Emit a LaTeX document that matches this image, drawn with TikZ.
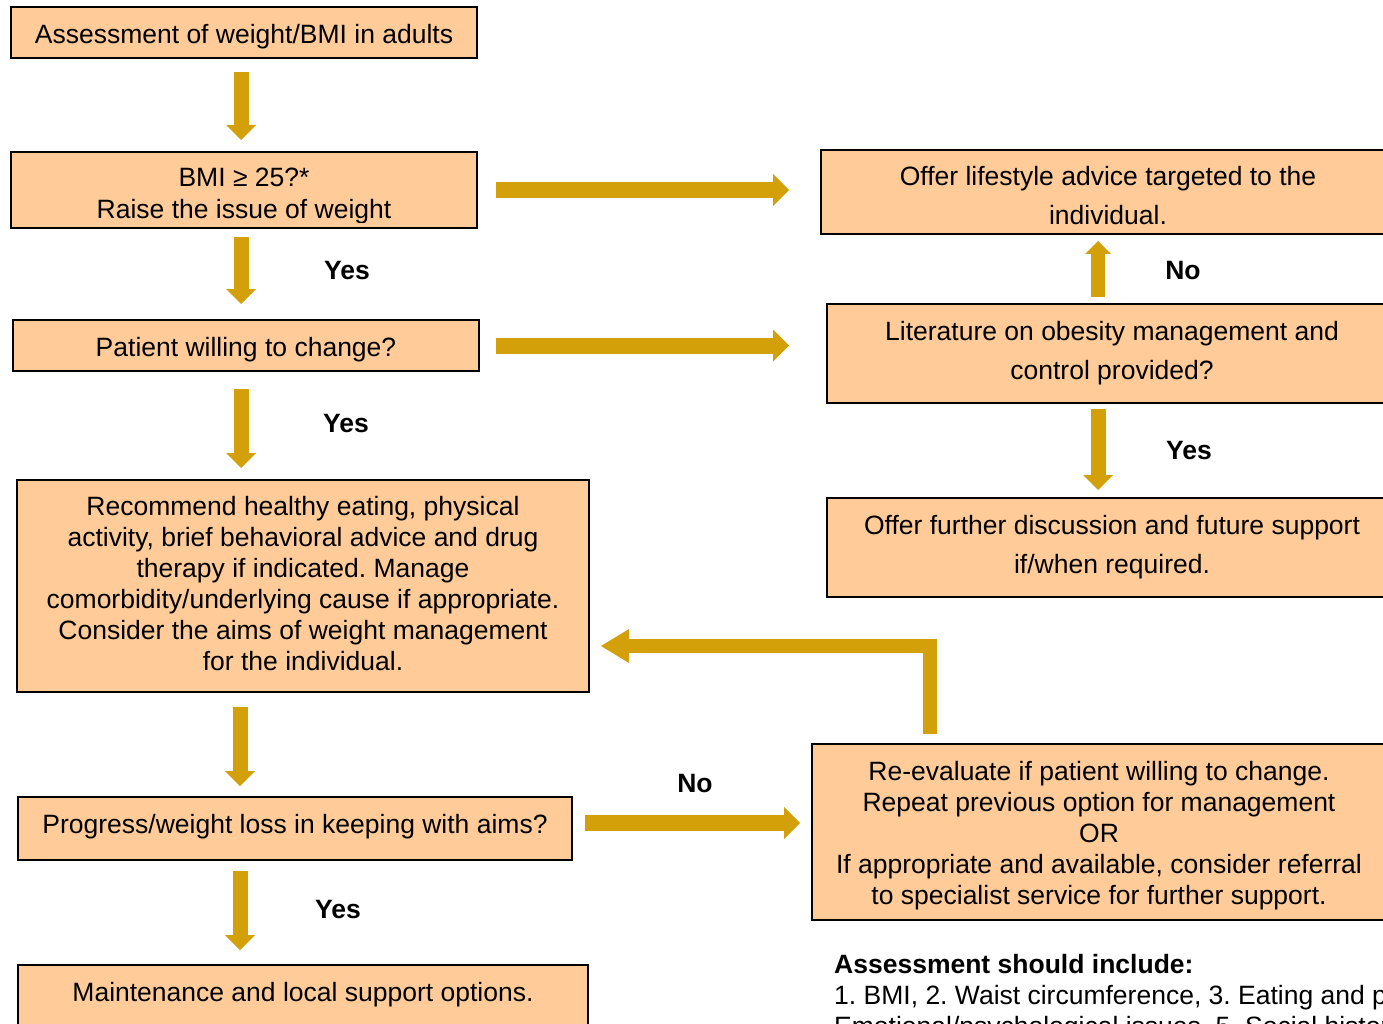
\documentclass[tikz,border=0pt]{standalone}
\usepackage{fontspec}
\setmainfont{Liberation Sans}
\usetikzlibrary{arrows.meta,calc}
\definecolor{boxfill}{HTML}{FFCC99}
\definecolor{gold}{HTML}{D4A00A}
\frenchspacing
\begin{document}
\frenchspacing
\begin{tikzpicture}[x=1pt,y=-1pt,
  box/.style={draw=black,line width=2pt,fill=boxfill,inner sep=0pt,align=center,
    font=\fontsize{26.5}{31}\selectfont},
  wbox/.style={box,font=\fontsize{26.5}{39}\selectfont},
  lbl/.style={font=\bfseries\fontsize{26.5}{31}\selectfont,inner sep=0pt},
  txt/.style={font=\fontsize{26.5}{31}\selectfont,inner sep=0pt,align=center},
  wtxt/.style={txt,font=\fontsize{26.5}{39}\selectfont},
  varrow/.style={draw=gold,line width=15pt,-{Triangle[width=30pt,length=15pt,line width=0pt]}},
  uarrow/.style={draw=gold,line width=14pt,-{Triangle[width=26pt,length=13pt,line width=0pt]}},
  harrow/.style={draw=gold,line width=16pt,-{Triangle[width=32pt,length=16pt,line width=0pt]}},
  barrow/.style={draw=gold,line width=14pt,line join=miter,-{Triangle[width=34pt,length=28pt,line width=0pt]}}
]
\useasboundingbox (0,0) rectangle (1383,1024);
\fill[white] (0,0) rectangle (1383,1024);
\clip (0,0) rectangle (1383,1024);

% left column boxes
\node[box,minimum width=466pt,minimum height=51pt] (b1) at (244,32.5) {};
\node[txt] (b1t) at (244,36.5) {Assessment of weight/BMI in adults};
\node[box,minimum width=466pt,minimum height=76pt] (b2) at (244,190) {};
\coordinate (b2clip) at (477,222.5);
\begin{scope}
  \clip (b2.north west) rectangle (b2clip);
  \node[txt,anchor=base] (b2a) at (244,186.5) {BMI ≥ 25?*};
  \node[txt,anchor=base] (b2b) at (244,218.5) {Raise the issue of weight};
\end{scope}
\node[box,minimum width=466pt,minimum height=51pt] (b3) at (246,345.5) {};
\coordinate (b3clip) at (479,361);
\begin{scope}
  \clip (b3.north west) rectangle (b3clip);
  \node[txt,anchor=base] (b3a) at (246,356) {Patient willing to change?};
\end{scope}
\node[box,minimum width=572pt,minimum height=212pt] (b4) at (303,586) {};
\node[txt] (b4t) at (303,583.5)
  {Recommend healthy eating, physical\\activity, brief behavioral advice and drug\\therapy if indicated. Manage\\comorbidity/underlying cause if appropriate.\\Consider the aims of weight management\\for the individual.};
\node[box,minimum width=554pt,minimum height=63pt] (b5) at (295,828.5) {};
\node[txt] (b5t) at (295,826.5) {Progress/weight loss in keeping with aims?};
\node[box,minimum width=570pt,minimum height=85pt] (b6) at (303,1007.5) {};
\node[txt,anchor=base] (b6a) at (303,1001) {Maintenance and local support options.};

% right column boxes
\node[box,minimum width=574pt,minimum height=84pt] (r1) at (1108,192) {};
\node[wtxt] (r1t) at (1108,196) {Offer lifestyle advice targeted to the\\individual.};
\node[wbox,minimum width=570pt,minimum height=99pt] (r2) at (1112,353.5) {Literature on obesity management and\\control provided?};
\node[wbox,minimum width=570pt,minimum height=99pt] (r3) at (1112,547.5) {Offer further discussion and future support\\if/when required.};
\node[box,minimum width=574pt,minimum height=176pt] (r4) at (1099,832) {};
\node[txt] (r4t) at (1099,835.5)
  {Re-evaluate if patient willing to change.\\Repeat previous option for management\\OR\\If appropriate and available, consider referral\\to specialist service for further support.};

% guide coordinates
\coordinate (sp) at (241,0);
\coordinate (sp2) at (240,0);
\coordinate (rs) at (1098,0);
\coordinate (bx) at (930,0);
\coordinate (by) at (0,646);

% connectors
\draw[varrow,shorten <=13pt,shorten >=11pt] (b1.south -| sp) -- (b2.north -| sp);
\draw[varrow,shorten <=8pt,shorten >=15pt] (b2.south -| sp) -- (b3.north -| sp);
\draw[varrow,shorten <=17pt,shorten >=11pt] (b3.south -| sp) -- (b4.north -| sp);
\draw[varrow,shorten <=14pt,shorten >=10pt] (b4.south -| sp2) -- (b5.north -| sp2);
\draw[varrow,shorten <=10pt,shorten >=14pt] (b5.south -| sp2) -- (b6.north -| sp2);

\draw[harrow,shorten <=18pt,shorten >=31pt] (b2.east) -- (b2.east -| r1.west);
\draw[harrow,shorten <=16pt,shorten >=37pt] (b3.east) -- (b3.east -| r2.west);
\draw[harrow,shorten <=12pt,shorten >=11pt] ($(b5.east)+(0,-5.5)$) -- ($(b5.east -| r4.west)+(0,-5.5)$);

\draw[uarrow,shorten <=6pt,shorten >=6pt] (r2.north -| rs) -- (r1.south -| rs);
\draw[varrow,shorten <=5pt,shorten >=7pt] (r2.south -| rs) -- (r3.north -| rs);
\draw[barrow,shorten <=9pt,shorten >=11pt] (r4.north -| bx) |- (b4.east |- by);

% labels
\node[lbl] (y1) at (347,271) {Yes};
\node[lbl] (y2) at (346,424) {Yes};
\node[lbl] (y3) at (338,910) {Yes};
\node[lbl] (y4) at (1189,451) {Yes};
\node[lbl] (n1) at (1183,271) {No};
\node[lbl] (n2) at (695,784) {No};

% note (cut off by the right and bottom edges, as in the original)
\node[txt,anchor=base west,font=\bfseries\fontsize{26.5}{31}\selectfont] (a1) at (834,973.5) {Assessment should include:};
\node[txt,anchor=base west] (a2) at (834,1004.5) {1. BMI, 2. Waist circumference, 3. Eating and physical activity, 4.};
\node[txt,anchor=base west] (a3) at (834,1035.5) {Emotional/psychological issues, 5. Social history};
\end{tikzpicture}
\end{document}
